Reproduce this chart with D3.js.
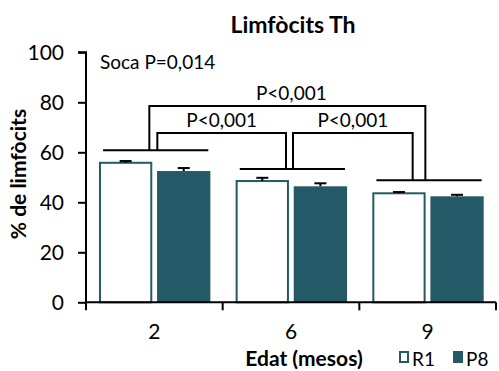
<!DOCTYPE html>
<html>
<head>
<meta charset="utf-8">
<script src="https://cdn.jsdelivr.net/npm/d3@7"></script>
<style>
  body { margin: 0; background: #fff; }
  svg text { font-family: Lato, "Open Sans", sans-serif; fill: #000; }
</style>
</head>
<body>
<svg id="chart" width="499" height="371"></svg>
<script>
// data
const categories = ["2", "6", "9"]
const r1 = [55.8, 48.5, 43.6]
const r1Err = [0.7, 1.3, 0.5]
const p8 = [52.5, 46.4, 42.4]
const p8Err = [1.2, 1.2, 0.6]
const yTicks = [0, 20, 40, 60, 80, 100]
// horizontal line over each age group (y value)
const groupLine = [60.8, 53.3, 48.8]
// comparisons between groups
const brackets = [
  {from: 0, to: 1, level: 67.7, label: "P<0,001"},
  {from: 1, to: 2, level: 67.7, label: "P<0,001"},
  {from: 0, to: 2, level: 78.5, label: "P<0,001"}
]

const teal = "#245a68"
const margin = {left: 86, right: 3, top: 52.3, bottom: 68.7}
const W = 499, H = 371

let svg = d3.select("#chart")

let xScale = d3.scaleBand().domain(categories).range([margin.left, W - margin.right])
let yScale = d3.scaleLinear().domain([0, 100]).range([H - margin.bottom, margin.top])
let bw = xScale.bandwidth()
let barW = bw * 0.39

function cx(i) { return xScale(categories[i]) + bw / 2 }

// bars
let groups = svg.selectAll(".grp").data(categories).enter().append("g")
    .attr("class", "grp")
    .attr("transform", function (d) { return `translate(${xScale(d)},0)` })

groups.append("rect")
    .attr("x", bw * 0.095 + 1)
    .attr("y", function (d, i) { return yScale(r1[i]) })
    .attr("width", barW - 2)
    .attr("height", function (d, i) { return yScale(0) - yScale(r1[i]) })
    .attr("fill", "#fff").attr("stroke", teal).attr("stroke-width", 2)

groups.append("rect")
    .attr("x", bw * 0.52)
    .attr("y", function (d, i) { return yScale(p8[i]) })
    .attr("width", barW)
    .attr("height", function (d, i) { return yScale(0) - yScale(p8[i]) })
    .attr("fill", teal)

// error bars (upper only)
function errBar(g, xc, val, err) {
  g.append("line").attr("x1", xc).attr("x2", xc)
      .attr("y1", yScale(val)).attr("y2", yScale(val + err))
      .attr("stroke", "#000").attr("stroke-width", 2)
  g.append("line").attr("x1", xc - 6).attr("x2", xc + 6)
      .attr("y1", yScale(val + err)).attr("y2", yScale(val + err))
      .attr("stroke", "#000").attr("stroke-width", 2)
}
groups.each(function (d, i) {
  let g = d3.select(this)
  errBar(g, bw * 0.095 + barW / 2, r1[i], r1Err[i])
  errBar(g, bw * 0.52 + barW / 2, p8[i], p8Err[i])
})

// group lines
groups.append("line")
    .attr("x1", bw * 0.125).attr("x2", bw * 0.895)
    .attr("y1", function (d, i) { return yScale(groupLine[i]) })
    .attr("y2", function (d, i) { return yScale(groupLine[i]) })
    .attr("stroke", "#000").attr("stroke-width", 2)

// brackets
const bOff = [[3, -5], [2, -15], [-5, -2.3]]
brackets.forEach(function (b, k) {
  let x1 = cx(b.from) + bOff[k][0], x2 = cx(b.to) + bOff[k][1]
  let yTop = yScale(b.level)
  svg.append("path")
      .attr("d", `M${x1},${yScale(groupLine[b.from])}V${yTop}H${x2}V${yScale(groupLine[b.to])}`)
      .attr("fill", "none").attr("stroke", "#000").attr("stroke-width", 2)
  svg.append("text")
      .attr("x", (x1 + x2) / 2 + (k == 2 ? 4 : 0)).attr("y", yTop - 6)
      .attr("text-anchor", "middle").attr("font-size", 19)
      .text(b.label)
})

// axes
let y_axis = d3.axisLeft(yScale).tickValues(yTicks).tickSize(8).tickPadding(14)
let ya = svg.append("g").attr("transform", `translate(${margin.left},0)`).call(y_axis)
ya.selectAll("text").attr("font-size", 21).style("font-family", "Lato, sans-serif")
ya.selectAll("path,line").attr("stroke", "#000").attr("stroke-width", 2)
ya.select(".domain").attr("d", `M-8,${yScale(100)}H0V${yScale(0)}`)

let x_axis = d3.axisBottom(xScale).tickSize(0).tickPadding(22)
let xa = svg.append("g").attr("transform", `translate(0,${yScale(0)})`).call(x_axis)
xa.selectAll("text").attr("font-size", 21).style("font-family", "Lato, sans-serif")
xa.select(".domain").attr("stroke", "#000").attr("stroke-width", 2)
    .attr("d", `M${margin.left},0H${W - margin.right}`)
// boundary ticks between categories
let bounds = categories.map(function (c) { return xScale(c) }).concat([W - margin.right])
xa.selectAll(".bt").data(bounds).enter().append("line")
    .attr("x1", function (d) { return d }).attr("x2", function (d) { return d })
    .attr("y1", 0).attr("y2", 8)
    .attr("stroke", "#000").attr("stroke-width", 2)

// title and labels
svg.append("text").attr("x", 293).attr("y", 33).attr("text-anchor", "middle")
    .attr("font-size", 23).attr("font-weight", "bold").text("Limfòcits Th")
svg.append("text").attr("x", 100).attr("y", 69)
    .attr("font-size", 19).text("Soca P=0,014")
svg.append("text")
    .attr("transform", `translate(26,${174}) rotate(-90)`)
    .attr("text-anchor", "middle")
    .attr("font-size", 21).attr("font-weight", "bold").text("% de limfòcits")
svg.append("text").attr("x", 304).attr("y", 366).attr("text-anchor", "middle")
    .attr("font-size", 21).attr("font-weight", "bold").text("Edat (mesos)")

// legend
svg.append("rect").attr("x", 400).attr("y", 352).attr("width", 8).attr("height", 10)
    .attr("fill", "#fff").attr("stroke", teal).attr("stroke-width", 2)
svg.append("text").attr("x", 412).attr("y", 366).attr("font-size", 19).text("R1")
svg.append("rect").attr("x", 453).attr("y", 351).attr("width", 10).attr("height", 12)
    .attr("fill", teal)
svg.append("text").attr("x", 466).attr("y", 366).attr("font-size", 19).text("P8")
</script>
</body>
</html>
